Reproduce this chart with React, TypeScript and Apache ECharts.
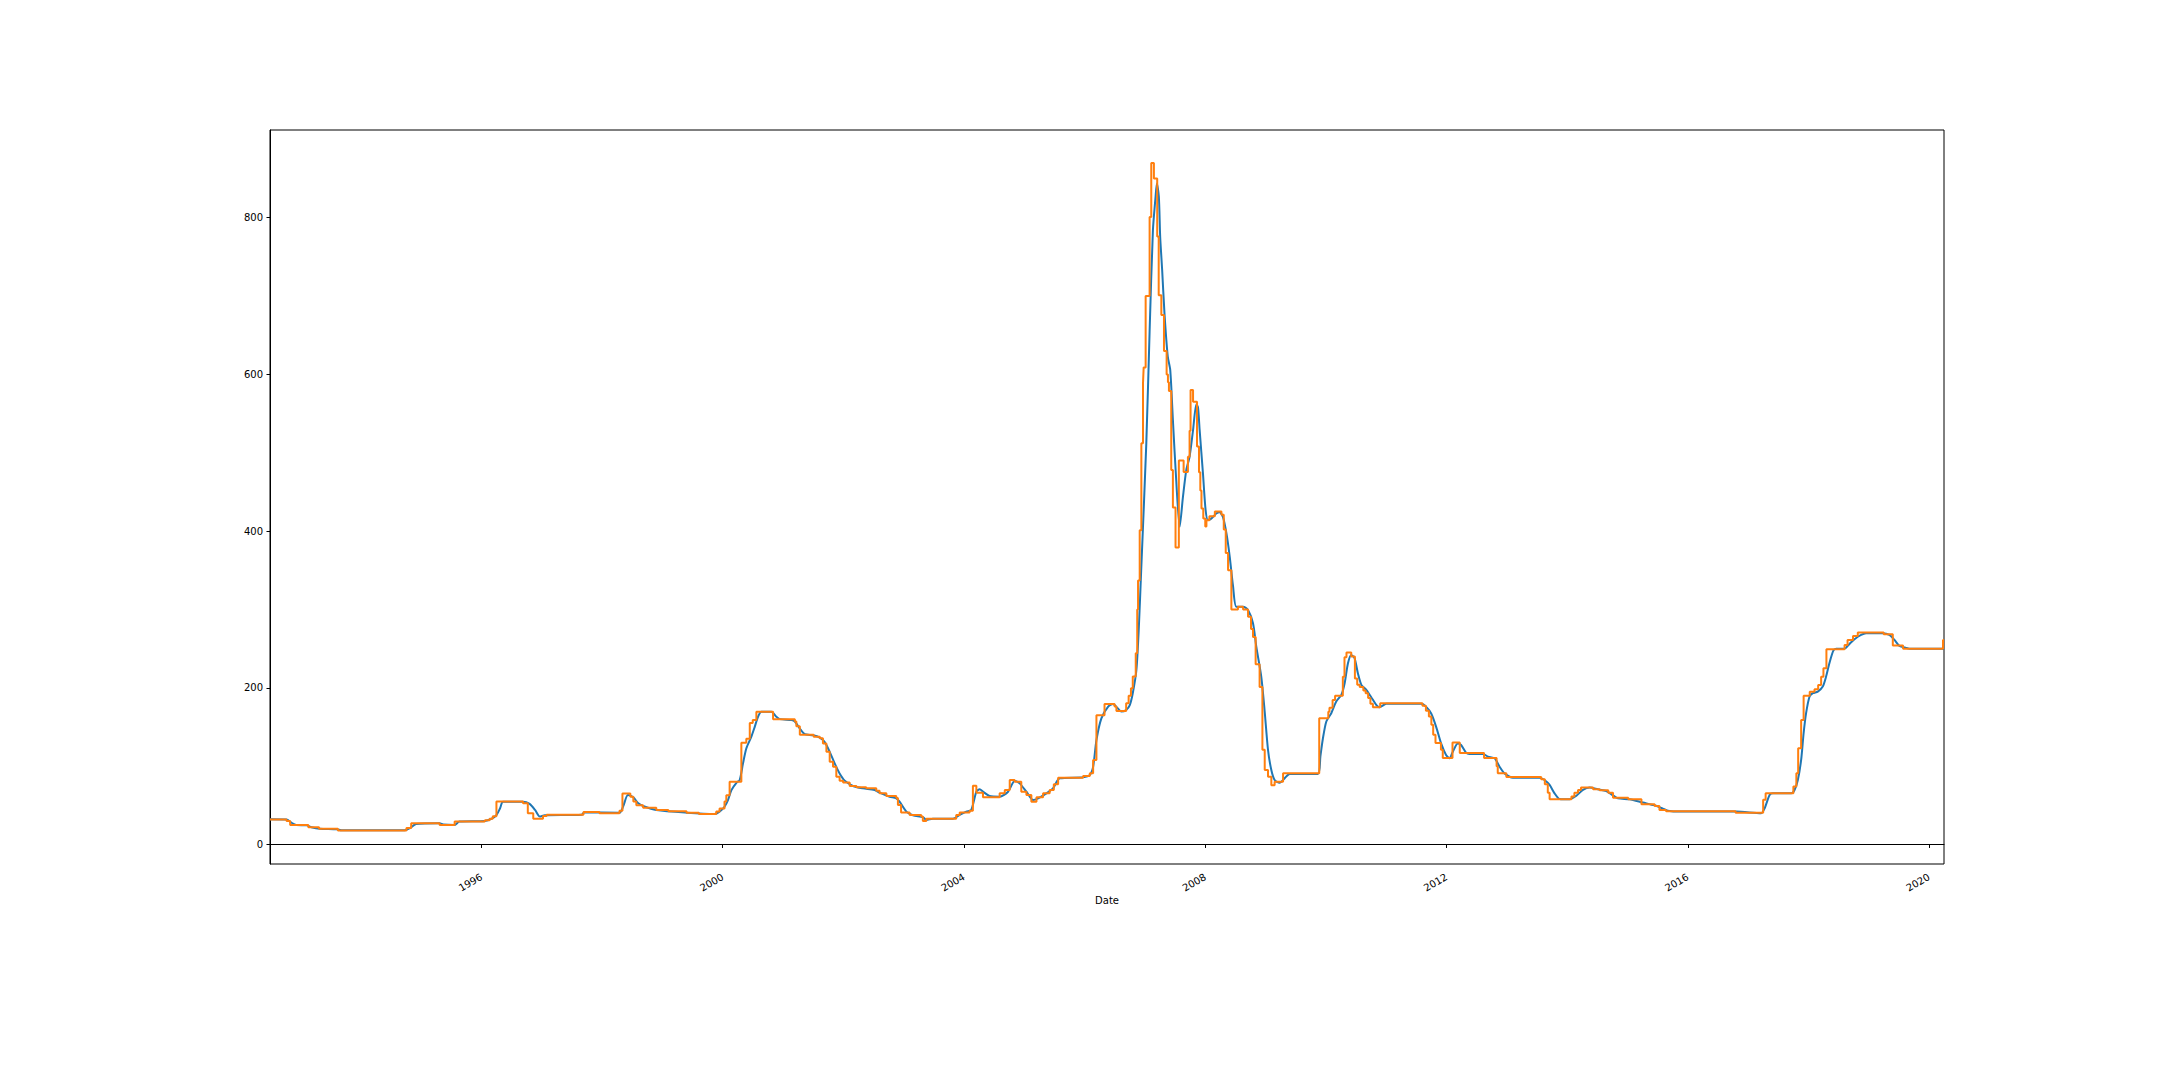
import { useEffect, useRef } from 'react';
import * as echarts from 'echarts';

const xTickLabels = ['1996', '2000', '2004', '2008', '2012', '2016', '2020'];
const yTickValues = [0, 200, 400, 600, 800];
const xRange = ['1992-06-30', '2020-03-31'];
const yRange = [-24.9, 912];
const xAxisTitle = 'Date';

// smoothed (blue) series
const smoothedSeries: [string, number][] = [
  ['1992-06-30', 32.1], ['1992-10-08', 32], ['1992-11-07', 27.8], ['1992-12-06', 24.9],
  ['1993-02-06', 24.5], ['1993-03-08', 22.1], ['1993-04-27', 20.2], ['1993-08-08', 19.4],
  ['1993-09-06', 18.1], ['1994-09-24', 18.1], ['1994-10-23', 20.6], ['1994-12-02', 26.1],
  ['1995-04-23', 27], ['1995-05-15', 25.5], ['1995-07-23', 24.9], ['1995-08-21', 29.2],
  ['1996-01-22', 30], ['1996-03-03', 33], ['1996-04-01', 37.6], ['1996-04-23', 46.2],
  ['1996-05-11', 54.7], ['1996-09-09', 54.7], ['1996-10-19', 51.8], ['1996-11-21', 44.1],
  ['1996-12-20', 35.6], ['1997-01-19', 37.3], ['1997-08-29', 38], ['1997-09-17', 41.1],
  ['1998-04-16', 40.6], ['1998-05-08', 48.3], ['1998-06-06', 63.2], ['1998-07-09', 60.2],
  ['1998-08-08', 52.5], ['1998-09-06', 49.1], ['1998-11-25', 44], ['1999-05-27', 40.6],
  ['1999-11-13', 38.9], ['1999-12-13', 41.9], ['2000-01-12', 48.2], ['2000-02-02', 56.7],
  ['2000-02-23', 69.4], ['2000-03-24', 78.8], ['2000-04-13', 82.3], ['2000-05-03', 103.5],
  ['2000-05-23', 122.6], ['2000-06-22', 137.4], ['2000-07-13', 150.2], ['2000-08-02', 163],
  ['2000-08-22', 169.4], ['2000-10-22', 169.4], ['2000-11-21', 163], ['2000-12-12', 160],
  ['2001-02-21', 158.8], ['2001-03-13', 157], ['2001-04-12', 148], ['2001-05-12', 140.8],
  ['2001-07-01', 139.5], ['2001-08-11', 136.5], ['2001-09-09', 131], ['2001-10-10', 118.3],
  ['2001-11-09', 103.5], ['2001-12-09', 90.7], ['2002-01-09', 81.5], ['2002-02-28', 74.7],
  ['2002-04-30', 71.7], ['2002-07-09', 69.6], ['2002-08-08', 66.2], ['2002-10-08', 61],
  ['2002-11-17', 58.9], ['2002-12-07', 54.7], ['2003-01-17', 42], ['2003-02-26', 37.3],
  ['2003-04-28', 34.8], ['2003-05-18', 31.4], ['2003-06-27', 33], ['2003-10-26', 33],
  ['2003-12-06', 37.7], ['2004-01-15', 42], ['2004-02-14', 44.1], ['2004-03-16', 67.4],
  ['2004-04-05', 70.4], ['2004-04-25', 67.4], ['2004-06-04', 61.9], ['2004-08-04', 61],
  ['2004-09-24', 67.4], ['2004-11-03', 81], ['2004-12-03', 78], ['2005-01-13', 67.4],
  ['2005-02-23', 56.7], ['2005-03-25', 58.9], ['2005-05-14', 65.3], ['2005-06-23', 71.7],
  ['2005-08-03', 84.5], ['2005-12-22', 85.8], ['2006-02-01', 88.8], ['2006-02-21', 99.3],
  ['2006-03-13', 133.3], ['2006-04-12', 161], ['2006-05-23', 176], ['2006-06-21', 179.4],
  ['2006-07-20', 173.8], ['2006-08-11', 169.6], ['2006-09-09', 171.7], ['2006-10-01', 178],
  ['2006-10-19', 193], ['2006-11-10', 222.7], ['2006-11-25', 278], ['2006-12-09', 350],
  ['2007-01-09', 512], ['2007-01-29', 655], ['2007-02-18', 784], ['2007-03-06', 826.7],
  ['2007-03-14', 843.8], ['2007-03-26', 826.7], ['2007-04-03', 775.8], ['2007-04-15', 733.3],
  ['2007-04-29', 678], ['2007-05-19', 622.6], ['2007-06-03', 605.6], ['2007-06-19', 541.8],
  ['2007-07-09', 465.2], ['2007-07-30', 405.6], ['2007-08-19', 443.9], ['2007-09-08', 477.9],
  ['2007-09-28', 494.9], ['2007-10-19', 528.9], ['2007-11-08', 562], ['2007-11-18', 558],
  ['2007-11-28', 528.9], ['2007-12-18', 473.7], ['2008-01-03', 427], ['2008-01-17', 414.3],
  ['2008-02-06', 416], ['2008-03-08', 422.5], ['2008-03-28', 424], ['2008-04-17', 418],
  ['2008-05-08', 397.4], ['2008-05-28', 367.6], ['2008-06-17', 330], ['2008-07-07', 303.5],
  ['2008-08-17', 303.5], ['2008-09-16', 299.3], ['2008-10-16', 282.3], ['2008-11-05', 252.5],
  ['2008-12-05', 214.3], ['2008-12-25', 171.7], ['2009-01-15', 120.6], ['2009-02-04', 95],
  ['2009-02-24', 82.3], ['2009-03-26', 78.9], ['2009-04-25', 84.4], ['2009-05-26', 90],
  ['2009-11-13', 90], ['2009-11-28', 112.3], ['2009-12-13', 135], ['2010-01-03', 157],
  ['2010-02-02', 167.6], ['2010-03-04', 182.5], ['2010-04-04', 191], ['2010-04-24', 205.9],
  ['2010-05-14', 231.4], ['2010-06-03', 242], ['2010-06-23', 237.8], ['2010-07-13', 218.6],
  ['2010-08-03', 203.8], ['2010-09-02', 197.4], ['2010-10-02', 188], ['2010-11-01', 178.3],
  ['2010-11-21', 175.3], ['2011-01-01', 179.6], ['2011-08-01', 179.6], ['2011-08-31', 175.7],
  ['2011-09-30', 167.2], ['2011-10-30', 150.2], ['2011-11-29', 129], ['2011-12-29', 114.2],
  ['2012-01-19', 110], ['2012-02-08', 118.5], ['2012-03-09', 129], ['2012-03-29', 127],
  ['2012-04-28', 117.2], ['2012-05-18', 115.5], ['2012-08-08', 115.5], ['2012-09-08', 112.2],
  ['2012-10-18', 110], ['2012-11-17', 99.3], ['2012-12-17', 90.8], ['2013-02-06', 85.3],
  ['2013-07-17', 85.3], ['2013-08-16', 82.3], ['2013-09-16', 76], ['2013-10-16', 65.3],
  ['2013-11-15', 58.1], ['2014-01-15', 57.7], ['2014-02-24', 62.1], ['2014-04-06', 69.6],
  ['2014-05-16', 72.6], ['2014-07-05', 70.5], ['2014-08-25', 68.3], ['2014-10-04', 62.8],
  ['2014-11-03', 58.9], ['2015-01-13', 57.7], ['2015-04-04', 53.5], ['2015-06-13', 50],
  ['2015-08-03', 45.7], ['2015-09-02', 43.2], ['2015-11-10', 42], ['2016-10-21', 42],
  ['2017-03-20', 40], ['2017-04-10', 46.2], ['2017-05-10', 63.3], ['2017-05-30', 65.4],
  ['2017-09-18', 65.4], ['2017-10-08', 69.6], ['2017-10-28', 82.3], ['2017-11-17', 107.9],
  ['2017-12-02', 142], ['2017-12-17', 167.6], ['2018-01-07', 188.9], ['2018-01-27', 193.1],
  ['2018-02-26', 195.2], ['2018-03-28', 201.6], ['2018-04-17', 214.3], ['2018-05-07', 231.4],
  ['2018-05-31', 247.5], ['2018-06-17', 250], ['2018-08-07', 250], ['2018-09-06', 256],
  ['2018-10-06', 262], ['2018-11-15', 267.5], ['2018-12-15', 269.6], ['2019-03-26', 269.6],
  ['2019-05-05', 267.5], ['2019-06-05', 261.1], ['2019-07-05', 253.5], ['2019-08-15', 250.9],
  ['2019-09-04', 250], ['2020-03-31', 250],
];

// step (orange) series: each value holds from its date until the next one
const stepSeries: [string, number][] = [
  ['1992-06-30', 32], ['1992-10-08', 30], ['1992-10-30', 25], ['1993-02-17', 22],
  ['1993-04-23', 20], ['1993-08-15', 18], ['1994-10-04', 21], ['1994-11-02', 27],
  ['1995-04-23', 25], ['1995-07-23', 29.5], ['1996-01-22', 31], ['1996-02-20', 33],
  ['1996-03-10', 36], ['1996-04-01', 55], ['1996-09-09', 52.5], ['1996-10-08', 40],
  ['1996-11-10', 33], ['1997-01-08', 36.5], ['1997-01-30', 38], ['1997-09-10', 41.5],
  ['1997-12-16', 40], ['1998-04-16', 43], ['1998-05-04', 65], ['1998-06-21', 61],
  ['1998-07-09', 55], ['1998-07-27', 50], ['1998-09-06', 47], ['1998-11-25', 44],
  ['1999-02-06', 42.3], ['1999-05-27', 40.6], ['1999-08-10', 39], ['1999-11-23', 42],
  ['1999-12-13', 46], ['2000-01-12', 55], ['2000-01-23', 63], ['2000-02-12', 80],
  ['2000-04-23', 130], ['2000-05-23', 135], ['2000-06-13', 155], ['2000-07-01', 159],
  ['2000-07-23', 169.5], ['2000-11-01', 160], ['2001-03-13', 157], ['2001-03-22', 151],
  ['2001-04-12', 140], ['2001-07-05', 137.6], ['2001-08-11', 135.5], ['2001-08-30', 129],
  ['2001-09-20', 118.5], ['2001-10-10', 105.7], ['2001-10-30', 99.3], ['2001-11-19', 86.6],
  ['2001-12-09', 81.5], ['2001-12-30', 79], ['2002-02-08', 74.7], ['2002-03-21', 73],
  ['2002-05-19', 71.7], ['2002-07-19', 68.7], ['2002-08-08', 65.3], ['2002-09-18', 62],
  ['2002-11-17', 59.4], ['2002-11-27', 50.4], ['2002-12-16', 40.7], ['2003-02-06', 37.7],
  ['2003-04-17', 35.6], ['2003-04-27', 30], ['2003-05-18', 33], ['2003-11-15', 37.7],
  ['2003-12-06', 40.7], ['2004-02-04', 43.2], ['2004-02-24', 75], ['2004-03-16', 66.2],
  ['2004-04-25', 60.2], ['2004-08-04', 65.3], ['2004-09-04', 69.6], ['2004-10-04', 82.3],
  ['2004-11-03', 80.2], ['2004-12-13', 67.4], ['2005-01-13', 63.2], ['2005-02-12', 54.7],
  ['2005-03-15', 60.2], ['2005-04-24', 65.3], ['2005-06-03', 69.6], ['2005-06-28', 77],
  ['2005-07-24', 85.3], ['2005-12-22', 87.5], ['2006-02-01', 91], ['2006-02-21', 108],
  ['2006-03-13', 165], ['2006-05-01', 179.4], ['2006-07-01', 176], ['2006-07-12', 170.4],
  ['2006-09-09', 180.3], ['2006-09-24', 190], ['2006-10-08', 199.4], ['2006-10-19', 214.3],
  ['2006-11-06', 244], ['2006-11-15', 300], ['2006-11-20', 337], ['2006-11-30', 401],
  ['2006-12-10', 512], ['2006-12-20', 588.6], ['2006-12-24', 609], ['2007-01-05', 700],
  ['2007-01-29', 801], ['2007-02-08', 870], ['2007-02-24', 850], ['2007-03-16', 776],
  ['2007-03-25', 701], ['2007-04-10', 676], ['2007-04-26', 630], ['2007-05-12', 600],
  ['2007-05-20', 590], ['2007-05-26', 579], ['2007-06-09', 478], ['2007-06-19', 430],
  ['2007-07-05', 379], ['2007-07-25', 490], ['2007-08-23', 475.5], ['2007-09-18', 495],
  ['2007-09-28', 528], ['2007-10-04', 580], ['2007-10-19', 565], ['2007-11-12', 508],
  ['2007-11-24', 475], ['2007-12-02', 452], ['2007-12-09', 429], ['2007-12-20', 416],
  ['2008-01-01', 406], ['2008-01-08', 414], ['2008-01-26', 419], ['2008-02-28', 425],
  ['2008-04-08', 421], ['2008-04-22', 402], ['2008-05-04', 372], ['2008-05-18', 350],
  ['2008-06-07', 300], ['2008-07-17', 303.5], ['2008-08-17', 300], ['2008-09-16', 290.6],
  ['2008-10-04', 275], ['2008-10-16', 265], ['2008-11-01', 230], ['2008-11-25', 201],
  ['2008-12-12', 121], ['2008-12-26', 95], ['2009-01-15', 86.6], ['2009-02-04', 75.5],
  ['2009-02-24', 80.2], ['2009-04-16', 90.8], ['2009-11-21', 161], ['2010-01-15', 169.4],
  ['2010-01-22', 174.5], ['2010-02-10', 184.3], ['2010-02-25', 190], ['2010-04-13', 214],
  ['2010-04-23', 239], ['2010-05-05', 245], ['2010-06-03', 240], ['2010-06-25', 212],
  ['2010-07-09', 204], ['2010-07-24', 201], ['2010-08-15', 196.5], ['2010-08-29', 193],
  ['2010-09-13', 187], ['2010-09-27', 179.5], ['2010-10-12', 175.3], ['2010-11-25', 180.4],
  ['2011-08-08', 177], ['2011-08-29', 170.6], ['2011-09-16', 163.4], ['2011-10-01', 152.8],
  ['2011-10-12', 140], ['2011-10-26', 129.4], ['2011-11-28', 121], ['2011-12-09', 110.3],
  ['2012-02-06', 130.2], ['2012-03-21', 116.7], ['2012-08-15', 110.3], ['2012-10-30', 100],
  ['2012-11-06', 90.8], ['2012-12-28', 86.2], ['2013-07-27', 83.2], ['2013-08-18', 76.8],
  ['2013-09-05', 66.2], ['2013-09-16', 57.7], ['2014-01-26', 61.1], ['2014-02-13', 66.2],
  ['2014-03-07', 69.6], ['2014-03-25', 72.6], ['2014-06-06', 70.5], ['2014-07-16', 69.2],
  ['2014-09-06', 66.2], ['2014-10-05', 59.8], ['2015-01-05', 57.7], ['2015-03-26', 51.3],
  ['2015-06-14', 49.2], ['2015-07-13', 44.1], ['2015-08-22', 42.5], ['2016-10-16', 40.5],
  ['2017-04-01', 57], ['2017-04-16', 65.4], ['2017-10-01', 74], ['2017-10-19', 91],
  ['2017-10-30', 123], ['2017-11-17', 159], ['2017-12-02', 190], ['2018-01-08', 195],
  ['2018-02-06', 198], ['2018-02-28', 203.6], ['2018-03-18', 214], ['2018-04-01', 225],
  ['2018-04-19', 249.2], ['2018-08-07', 254.7], ['2018-08-25', 261], ['2018-09-27', 266],
  ['2018-10-26', 270.5], ['2019-04-01', 268.4], ['2019-05-26', 254], ['2019-07-27', 250],
  ['2020-03-25', 261], ['2020-03-31', 261],
];

const toTime = (s: string) => {
  const [y, m, d] = s.split('-').map(Number);
  return Date.UTC(y, (m || 1) - 1, d || 1);
};

const FONT = '"DejaVu Sans", sans-serif';

export default function App() {
  const ref = useRef<HTMLDivElement>(null);

  useEffect(() => {
    if (!ref.current) return;
    const chart = echarts.init(ref.current, undefined, { renderer: 'svg' });
    const xTicks = xTickLabels.map((y) => toTime(y + '-01-01'));

    chart.setOption({
      animation: false,
      backgroundColor: '#ffffff',
      textStyle: { fontFamily: FONT },
      grid: {
        left: 270,
        right: 216,
        top: 130,
        bottom: 216,
        show: true,
        borderColor: '#000000',
        borderWidth: 1,
        backgroundColor: 'transparent',
        containLabel: false,
        outerBoundsMode: 'none',
      },
      xAxis: {
        type: 'value',
        min: toTime(xRange[0]),
        max: toTime(xRange[1]),
        axisLine: { show: true, lineStyle: { color: '#000000', width: 1 } },
        axisTick: {
          show: true,
          inside: false,
          length: 3.5,
          lineStyle: { color: '#000000', width: 1 },
          customValues: xTicks,
        },
        axisLabel: {
          customValues: xTicks,
          formatter: (v: number) => String(new Date(v).getUTCFullYear()),
          rotate: 30,
          margin: 12,
          fontSize: 10,
          color: '#000000',
          fontFamily: FONT,
        },
        splitLine: { show: false },
      },
      yAxis: {
        type: 'value',
        min: yRange[0],
        max: yRange[1],
        axisLine: { show: true, lineStyle: { color: '#000000', width: 1 } },
        axisTick: {
          show: true,
          inside: false,
          length: 3.5,
          lineStyle: { color: '#000000', width: 1 },
          customValues: yTickValues,
        },
        axisLabel: {
          customValues: yTickValues,
          margin: 7,
          fontSize: 10,
          color: '#000000',
          fontFamily: FONT,
        },
        splitLine: { show: false },
      },
      graphic: [
        {
          type: 'text',
          x: 1107,
          y: 900,
          style: {
            text: xAxisTitle,
            fill: '#000000',
            font: '10px ' + FONT,
            textAlign: 'center',
            textVerticalAlign: 'middle',
          },
        },
      ],
      series: [
        {
          name: 'Smoothed',
          type: 'line',
          data: smoothedSeries.map(([d, v]) => [toTime(d), v]),
          showSymbol: false,
          smooth: 0.25,
          lineStyle: { color: '#1f77b4', width: 2 },
          itemStyle: { color: '#1f77b4' },
          z: 2,
        },
        {
          name: 'Value',
          type: 'line',
          data: stepSeries.map(([d, v]) => [toTime(d), v]),
          showSymbol: false,
          step: 'end',
          lineStyle: { color: '#ff7f0e', width: 2 },
          itemStyle: { color: '#ff7f0e' },
          z: 3,
        },
      ],
    });

    return () => chart.dispose();
  }, []);

  return (
    <div
      ref={ref}
      style={{ position: 'absolute', left: 0, top: 0, width: 2160, height: 1080, background: '#fff' }}
    />
  );
}
